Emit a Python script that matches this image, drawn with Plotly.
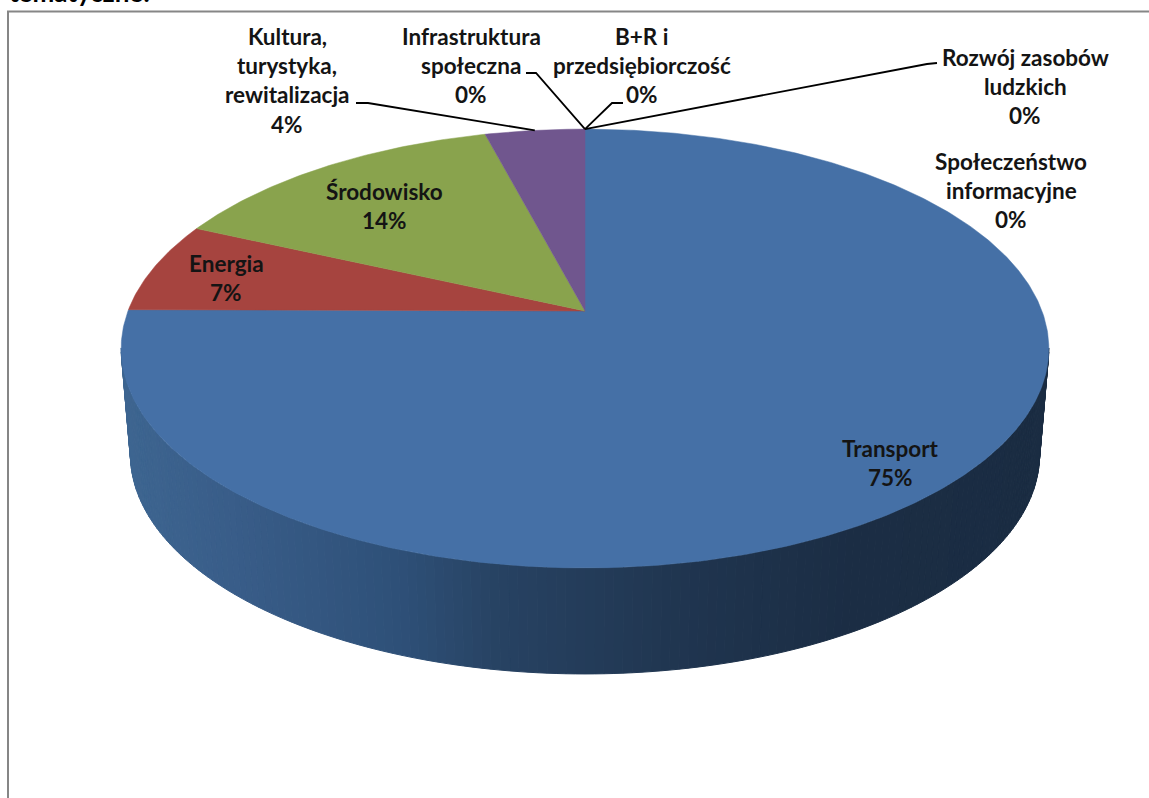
import numpy as np
import plotly.graph_objects as go

# ---- data ----
categories = ["Transport", "Energia", "Środowisko", "Kultura, turystyka, rewitalizacja",
              "Infrastruktura społeczna", "B+R i przedsiębiorczość",
              "Rozwój zasobów ludzkich", "Społeczeństwo informacyjne"]
values = [75.1, 6.7, 14.1, 4.1, 0, 0, 0, 0]
slice_colors = ["#4570A6", "#A6443F", "#89A34D", "#70568E"]
label_lines = [["Transport"], ["Energia"], ["Środowisko"],
               ["Kultura,", "turystyka,", "rewitalizacja"],
               ["Infrastruktura", "społeczna"], ["B+R i", "przedsiębiorczość"],
               ["Rozwój zasobów", "ludzkich"], ["Społeczeństwo", "informacyjne"]]
label_x = [890, 226, 384, 287, 471, 642, 1025, 1011]
label_y = [448, 263, 191, 36, 36, 36, 57, 161]
line_step = 29.4
leaders = {3: [(356, 103), (368, 103)], 4: [(526, 73), (536, 73)],
           5: [(623, 103), (612, 103)], 6: [(937, 63), (927, 64)]}
title_tail = "tematyczne:"

# ---- projection of the disc ----
CX, CY, A, B, K = 585.0, 311.0, 457.0, 213.0, 0.171
THICK, BOTTOM_SCALE = 106.0, 0.98
FONT = "Lato"
SIZE = 22.5


def top_face(theta):
    u, v = np.sin(theta), np.cos(theta)
    d = 1 + K * v
    return CX + A * u / d, CY - B * v / d


def bottom_face(theta):
    x, y = top_face(theta)
    return CX + (x - CX) * BOTTOM_SCALE, y + THICK


def wall_color(x):
    xs = [125, 230, 400, 500, 700, 850, 1050]
    r = [61, 57, 46, 39, 31, 27, 26]
    g = [101, 93, 80, 66, 52, 45, 44]
    b = [144, 137, 120, 98, 78, 68, 66]
    return f"rgb({np.interp(x, xs, r):.0f},{np.interp(x, xs, g):.0f},{np.interp(x, xs, b):.0f})"


fig = go.Figure()

# frame
fig.add_trace(go.Scatter(x=[8, 8, 1149], y=[798, 11.5, 11.5], mode="lines",
                         line=dict(color="#868686", width=2), hoverinfo="skip"))

# side wall of the front rim
edges = np.radians(np.linspace(99.7, 260.3, 161))
for t0, t1 in zip(edges[:-1], edges[1:]):
    tt = np.array([t0, t1])
    xt, yt = top_face(tt)
    xb, yb = bottom_face(tt)
    col = wall_color((xt.mean() + xb.mean()) / 2)
    fig.add_trace(go.Scatter(x=[xt[0], xt[1], xb[1], xb[0], xt[0]],
                             y=[yt[0], yt[1], yb[1], yb[0], yt[0]],
                             mode="lines", fill="toself", fillcolor=col,
                             line=dict(color=col, width=1), hoverinfo="skip"))

# top face slices
total = sum(values)
cum = np.cumsum([0] + values) / total * 2 * np.pi
for i, val in enumerate(values):
    if val == 0:
        continue
    th = np.linspace(cum[i], cum[i + 1], max(8, int(val * 6)))
    x, y = top_face(th)
    fig.add_trace(go.Scatter(x=np.r_[CX, x, CX], y=np.r_[CY, y, CY], mode="lines",
                             fill="toself", fillcolor=slice_colors[i],
                             line=dict(color=slice_colors[i], width=0.5),
                             name=categories[i], hoverinfo="name"))

# leader lines to each slice's mid-angle on the rim
for i, pts in leaders.items():
    ex, ey = top_face((cum[i] + cum[i + 1]) / 2)
    fig.add_trace(go.Scatter(x=[p[0] for p in pts] + [float(ex)],
                             y=[p[1] for p in pts] + [float(ey)], mode="lines",
                             line=dict(color="#000000", width=1.8), hoverinfo="skip"))

# labels, one annotation per line to hold the wide line spacing
ann = []
for i, lines in enumerate(label_lines):
    rows = lines + [f"{values[i]:.0f}%"]
    for j, txt in enumerate(rows):
        ann.append(dict(x=label_x[i], y=label_y[i] + j * line_step, text=txt, showarrow=False,
                        xanchor="center", yanchor="middle", xref="x", yref="y",
                        font=dict(family=FONT, size=SIZE, color="#141414", weight=700)))
ann.append(dict(x=7, y=10, text=title_tail, showarrow=False, xanchor="left", yanchor="bottom",
                xref="x", yref="y", font=dict(family=FONT, size=26, color="#000000", weight=700)))

fig.update_layout(width=1149, height=798, margin=dict(l=0, r=0, t=0, b=0), showlegend=False,
                  paper_bgcolor="white", plot_bgcolor="white", annotations=ann,
                  xaxis=dict(range=[0, 1149], visible=False, fixedrange=True),
                  yaxis=dict(range=[798, 0], visible=False, fixedrange=True))
fig.write_html("out.html", config=dict(displayModeBar=False),
               post_script="document.body.style.margin='0';document.body.style.overflow='hidden';")
